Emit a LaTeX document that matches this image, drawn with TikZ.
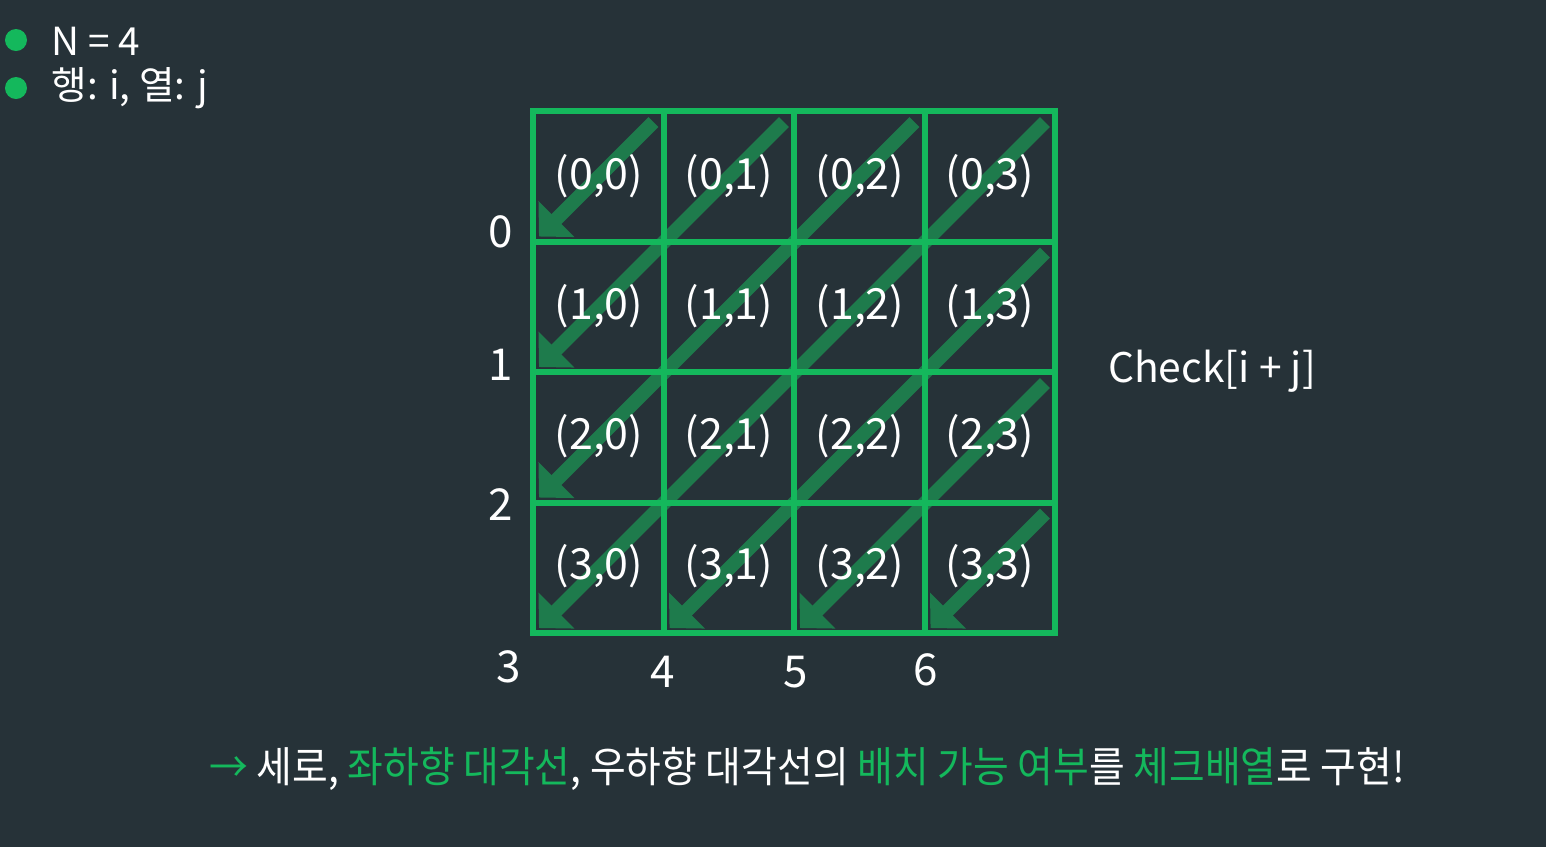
\documentclass[tikz,border=0pt]{standalone}
\usepackage{fontspec}
\setmainfont{Noto Sans CJK KR}
\newfontfamily\summaryfont[FakeStretch=0.92]{Noto Sans CJK KR}
\usetikzlibrary{arrows.meta}
\definecolor{bgslate}{HTML}{263238}
\definecolor{gridgreen}{HTML}{14B85C}
\definecolor{diaggreen}{HTML}{1E7B4C}
\tikzset{
  cellline/.style={gridgreen, line width=1.7pt},
  diagarrow/.style={diaggreen, line width=4pt, -{Triangle[width=14pt,length=7pt]}},
  celltext/.style={white, font=\fontsize{12.2}{15}\selectfont},
  sumtext/.style={white, font=\fontsize{12.5}{15}\selectfont},
  listtext/.style={white, anchor=west, font=\fontsize{11}{13}\selectfont},
}
\begin{document}
\begin{tikzpicture}[x=0.01cm, y=-0.01cm]
\fill [bgslate] (0,0) rectangle (1546,847);
\useasboundingbox (0,0) rectangle (1546,847);
% list at top left
\fill [gridgreen] (16,40) circle [radius=11];
\fill [gridgreen] (16,88) circle [radius=11];
\node [listtext] (nsize) at (39,41) {N = 4};
\node [listtext] (rowcol) at (39,88) {행: i, 열: j};
% diagonal arrows i+j
\coordinate (a0) at (653.5,122);  \coordinate (b0) at (539,236.5);
\coordinate (a1) at (784,122);    \coordinate (b1) at (539,367);
\coordinate (a2) at (914.5,122);  \coordinate (b2) at (539,497.5);
\coordinate (a3) at (1045,122);   \coordinate (b3) at (539,628);
\coordinate (a4) at (1045,252.5); \coordinate (b4) at (669.5,628);
\coordinate (a5) at (1045,383);   \coordinate (b5) at (800,628);
\coordinate (a6) at (1045,513.5); \coordinate (b6) at (930.5,628);
\draw [diagarrow] (a0) -- (b0);
\draw [diagarrow] (a1) -- (b1);
\draw [diagarrow] (a2) -- (b2);
\draw [diagarrow] (a3) -- (b3);
\draw [diagarrow] (a4) -- (b4);
\draw [diagarrow] (a5) -- (b5);
\draw [diagarrow] (a6) -- (b6);
% board
\draw [cellline] (533,111) rectangle (1055,633);
\draw [cellline] (663.5,111) -- (663.5,633);
\draw [cellline] (794,111) -- (794,633);
\draw [cellline] (924.5,111) -- (924.5,633);
\draw [cellline] (533,241.5) -- (1055,241.5);
\draw [cellline] (533,372) -- (1055,372);
\draw [cellline] (533,502.5) -- (1055,502.5);
% cells
\node [celltext] (c00) at (599,176) {(0,0)};
\node [celltext] (c01) at (729,176) {(0,1)};
\node [celltext] (c02) at (860,176) {(0,2)};
\node [celltext] (c03) at (990,176) {(0,3)};
\node [celltext] (c10) at (599,306) {(1,0)};
\node [celltext] (c11) at (729,306) {(1,1)};
\node [celltext] (c12) at (860,306) {(1,2)};
\node [celltext] (c13) at (990,306) {(1,3)};
\node [celltext] (c20) at (599,436) {(2,0)};
\node [celltext] (c21) at (729,436) {(2,1)};
\node [celltext] (c22) at (860,436) {(2,2)};
\node [celltext] (c23) at (990,436) {(2,3)};
\node [celltext] (c30) at (599,566) {(3,0)};
\node [celltext] (c31) at (729,566) {(3,1)};
\node [celltext] (c32) at (860,566) {(3,2)};
\node [celltext] (c33) at (990,566) {(3,3)};
% sums i+j
\node [sumtext] (s0) at (501,232) {0};
\node [sumtext] (s1) at (501,365) {1};
\node [sumtext] (s2) at (501,505) {2};
\node [sumtext] (s3) at (509,667) {3};
\node [sumtext] (s4) at (663,672) {4};
\node [sumtext] (s5) at (796,672) {5};
\node [sumtext] (s6) at (926,670) {6};
\node [celltext, font=\fontsize{11.6}{14}\selectfont] (check) at (1212,371) {Check[i + j]};
% summary line
\node [white, font=\summaryfont\fontsize{12}{15}\selectfont] (summary) at (807,769) {\textcolor{gridgreen}{→} 세로, \textcolor{gridgreen}{좌하향 대각선}, 우하향 대각선의 \textcolor{gridgreen}{배치 가능 여부}를 \textcolor{gridgreen}{체크배열}로 구현!};
\end{tikzpicture}
\end{document}
